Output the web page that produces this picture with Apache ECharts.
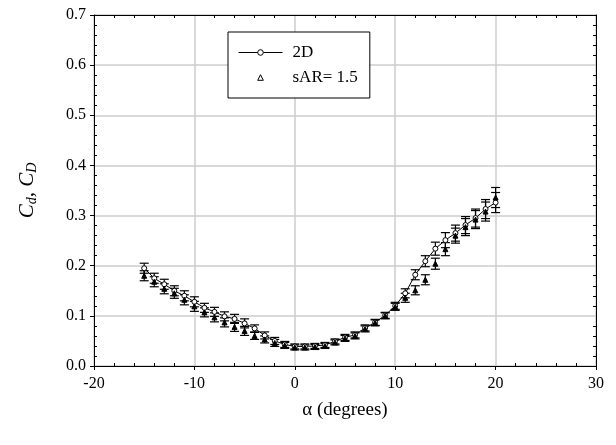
<!DOCTYPE html>
<html>
<head>
<meta charset="utf-8">
<script src="https://cdn.jsdelivr.net/npm/echarts@6/dist/echarts.min.js"></script>
<style>html,body{margin:0;padding:0;background:#fff;}#c{width:616px;height:445px;}</style>
</head>
<body>
<div id="c"></div>
<script>
var alpha = [-15,-14,-13,-12,-11,-10,-9,-8,-7,-6,-5,-4,-3,-2,-1,0,1,2,3,4,5,6,7,8,9,10,11,12,13,14,15,16,17,18,19,20];
var cd2D = [0.195,0.175,0.163,0.150,0.140,0.128,0.116,0.108,0.099,0.094,0.085,0.075,0.061,0.050,0.043,0.039,0.039,0.040,0.042,0.049,0.057,0.062,0.076,0.087,0.101,0.120,0.145,0.182,0.209,0.234,0.251,0.265,0.281,0.295,0.313,0.326];
var cdSAR = [0.180,0.168,0.154,0.145,0.132,0.119,0.107,0.097,0.087,0.078,0.070,0.060,0.053,0.046,0.041,0.037,0.037,0.038,0.040,0.047,0.055,0.060,0.074,0.086,0.100,0.118,0.136,0.151,0.172,0.204,0.233,0.260,0.277,0.292,0.308,0.336];
var err2D = [0.010,0.010,0.010,0.010,0.010,0.010,0.009,0.009,0.009,0.009,0.009,0.007,0.007,0.007,0.006,0.005,0.005,0.005,0.005,0.005,0.006,0.006,0.006,0.006,0.006,0.007,0.009,0.010,0.011,0.013,0.015,0.016,0.017,0.018,0.019,0.020];
var errSAR = [0.010,0.010,0.010,0.010,0.010,0.010,0.009,0.009,0.009,0.009,0.009,0.007,0.007,0.007,0.006,0.005,0.005,0.005,0.005,0.005,0.006,0.006,0.006,0.006,0.006,0.007,0.009,0.009,0.010,0.011,0.013,0.015,0.017,0.018,0.019,0.020];
var xTicks = [-20,-10,0,10,20,30];
var yTicks = [0.0,0.1,0.2,0.3,0.4,0.5,0.6,0.7];

var FONT = '"Liberation Serif","Times New Roman",serif';
function zip(a,b){return a.map(function(v,i){return [v,b[i]];});}
function zip3(a,b,c){return a.map(function(v,i){return [v,b[i],c[i]];});}

function errRender(params, api){
  var x = api.value(0), y = api.value(1), e = api.value(2);
  var top = api.coord([x, y + e]);
  var bot = api.coord([x, y - e]);
  var hw = 4.5;
  var st = {stroke:'#000', lineWidth:1.2};
  return {type:'group', children:[
    {type:'line', shape:{x1:top[0],y1:top[1],x2:bot[0],y2:bot[1]}, style:st},
    {type:'line', shape:{x1:top[0]-hw,y1:top[1],x2:top[0]+hw,y2:top[1]}, style:st},
    {type:'line', shape:{x1:bot[0]-hw,y1:bot[1],x2:bot[0]+hw,y2:bot[1]}, style:st}
  ]};
}

var gridPos = {left:94, top:15, right:20, bottom:79};
var xMin = xTicks[0], xMax = xTicks[xTicks.length-1], xInt = xTicks[1]-xTicks[0];
var yMin = yTicks[0], yMax = yTicks[yTicks.length-1], yInt = 0.1;

function minorAxis(pos, min, max, interval, showLine){
  return {type:'value', min:min, max:max, interval:interval, position:pos,
    axisLine:{show:showLine, onZero:false, lineStyle:{color:'#000', width:1}},
    axisTick:{show:false, inside:true}, axisLabel:{show:false},
    minorTick:{show:true, splitNumber:5, length:3, lineStyle:{color:'#000'}},
    splitLine:{show:false}};
}

var chart = echarts.init(document.getElementById('c'), null, {renderer:'canvas'});
chart.setOption({
  animation:false,
  backgroundColor:'#fff',
  grid:gridPos,
  legend:{
    orient:'vertical', left:228, top:32,
    backgroundColor:'#fff',
    borderColor:'#000', borderWidth:1, borderRadius:0,
    padding:[12,12,12,10],
    itemWidth:44, itemHeight:7, itemGap:8,
    lineStyle:{width:1},
    textStyle:{fontFamily:FONT, fontSize:17, color:'#000', lineHeight:16, padding:[0,0,0,5]},
    data:[
      {name:'2D', itemStyle:{color:'#fff', borderColor:'#000', borderWidth:1}},
      {name:'sAR= 1.5', itemStyle:{color:'#fff', borderColor:'#000', borderWidth:1}}
    ]
  },
  xAxis:[
    {type:'value', min:xMin, max:xMax, interval:xInt, position:'bottom',
     name:'α (degrees)', nameLocation:'middle', nameGap:35,
     nameTextStyle:{fontFamily:FONT, fontSize:19, color:'#000'},
     axisLine:{show:true, onZero:false, lineStyle:{color:'#000', width:1}},
     axisTick:{show:true, inside:false, length:4, lineStyle:{color:'#000'}},
     axisLabel:{fontFamily:FONT, fontSize:16, color:'#000', margin:10},
     splitLine:{show:true, lineStyle:{color:'#cccccc', width:1.5}}},
    minorAxis('bottom', xMin, xMax, xInt, false),
    minorAxis('top', xMin, xMax, xInt, true)
  ],
  yAxis:[
    {type:'value', min:yMin, max:yMax, interval:yInt, position:'left',
     name:'{i|C}{s|d}{n|, }{i|C}{s|D}', nameLocation:'middle', nameGap:55, nameRotate:90,
     nameTextStyle:{rich:{
       i:{fontFamily:FONT, fontSize:21, fontStyle:'italic', color:'#000'},
       s:{fontFamily:FONT, fontSize:14, fontStyle:'italic', color:'#000', padding:[9,0,0,0]},
       n:{fontFamily:FONT, fontSize:21, color:'#000'}
     }},
     axisLine:{show:true, onZero:false, lineStyle:{color:'#000', width:1}},
     axisTick:{show:true, inside:false, length:4, lineStyle:{color:'#000'}},
     axisLabel:{fontFamily:FONT, fontSize:16, color:'#000', margin:8,
       formatter:function(v){return v.toFixed(1);}},
     splitLine:{show:true, lineStyle:{color:'#cccccc', width:1.5}}},
    minorAxis('left', yMin, yMax, yInt, false),
    minorAxis('right', yMin, yMax, yInt, true)
  ],
  series:[
    {type:'custom', name:'err2D', xAxisIndex:0, yAxisIndex:0, renderItem:errRender,
     data:zip3(alpha, cd2D, err2D), encode:{x:0, y:1}, z:2, silent:true},
    {type:'custom', name:'errSAR', xAxisIndex:0, yAxisIndex:0, renderItem:errRender,
     data:zip3(alpha, cdSAR, errSAR), encode:{x:0, y:1}, z:2, silent:true},
    {type:'line', name:'2D', xAxisIndex:0, yAxisIndex:0, data:zip(alpha, cd2D),
     symbol:'circle', symbolSize:5, showAllSymbol:true,
     lineStyle:{color:'#000', width:1},
     itemStyle:{color:'#fff', borderColor:'#000', borderWidth:1}, z:3},
    {type:'line', name:'sAR= 1.5', xAxisIndex:0, yAxisIndex:0, data:zip(alpha, cdSAR),
     symbol:'triangle', symbolSize:5, showAllSymbol:true,
     lineStyle:{width:0, opacity:0},
     itemStyle:{color:'#000', borderColor:'#000', borderWidth:1, opacity:1}, z:4}
  ]
});
</script>
</body>
</html>
